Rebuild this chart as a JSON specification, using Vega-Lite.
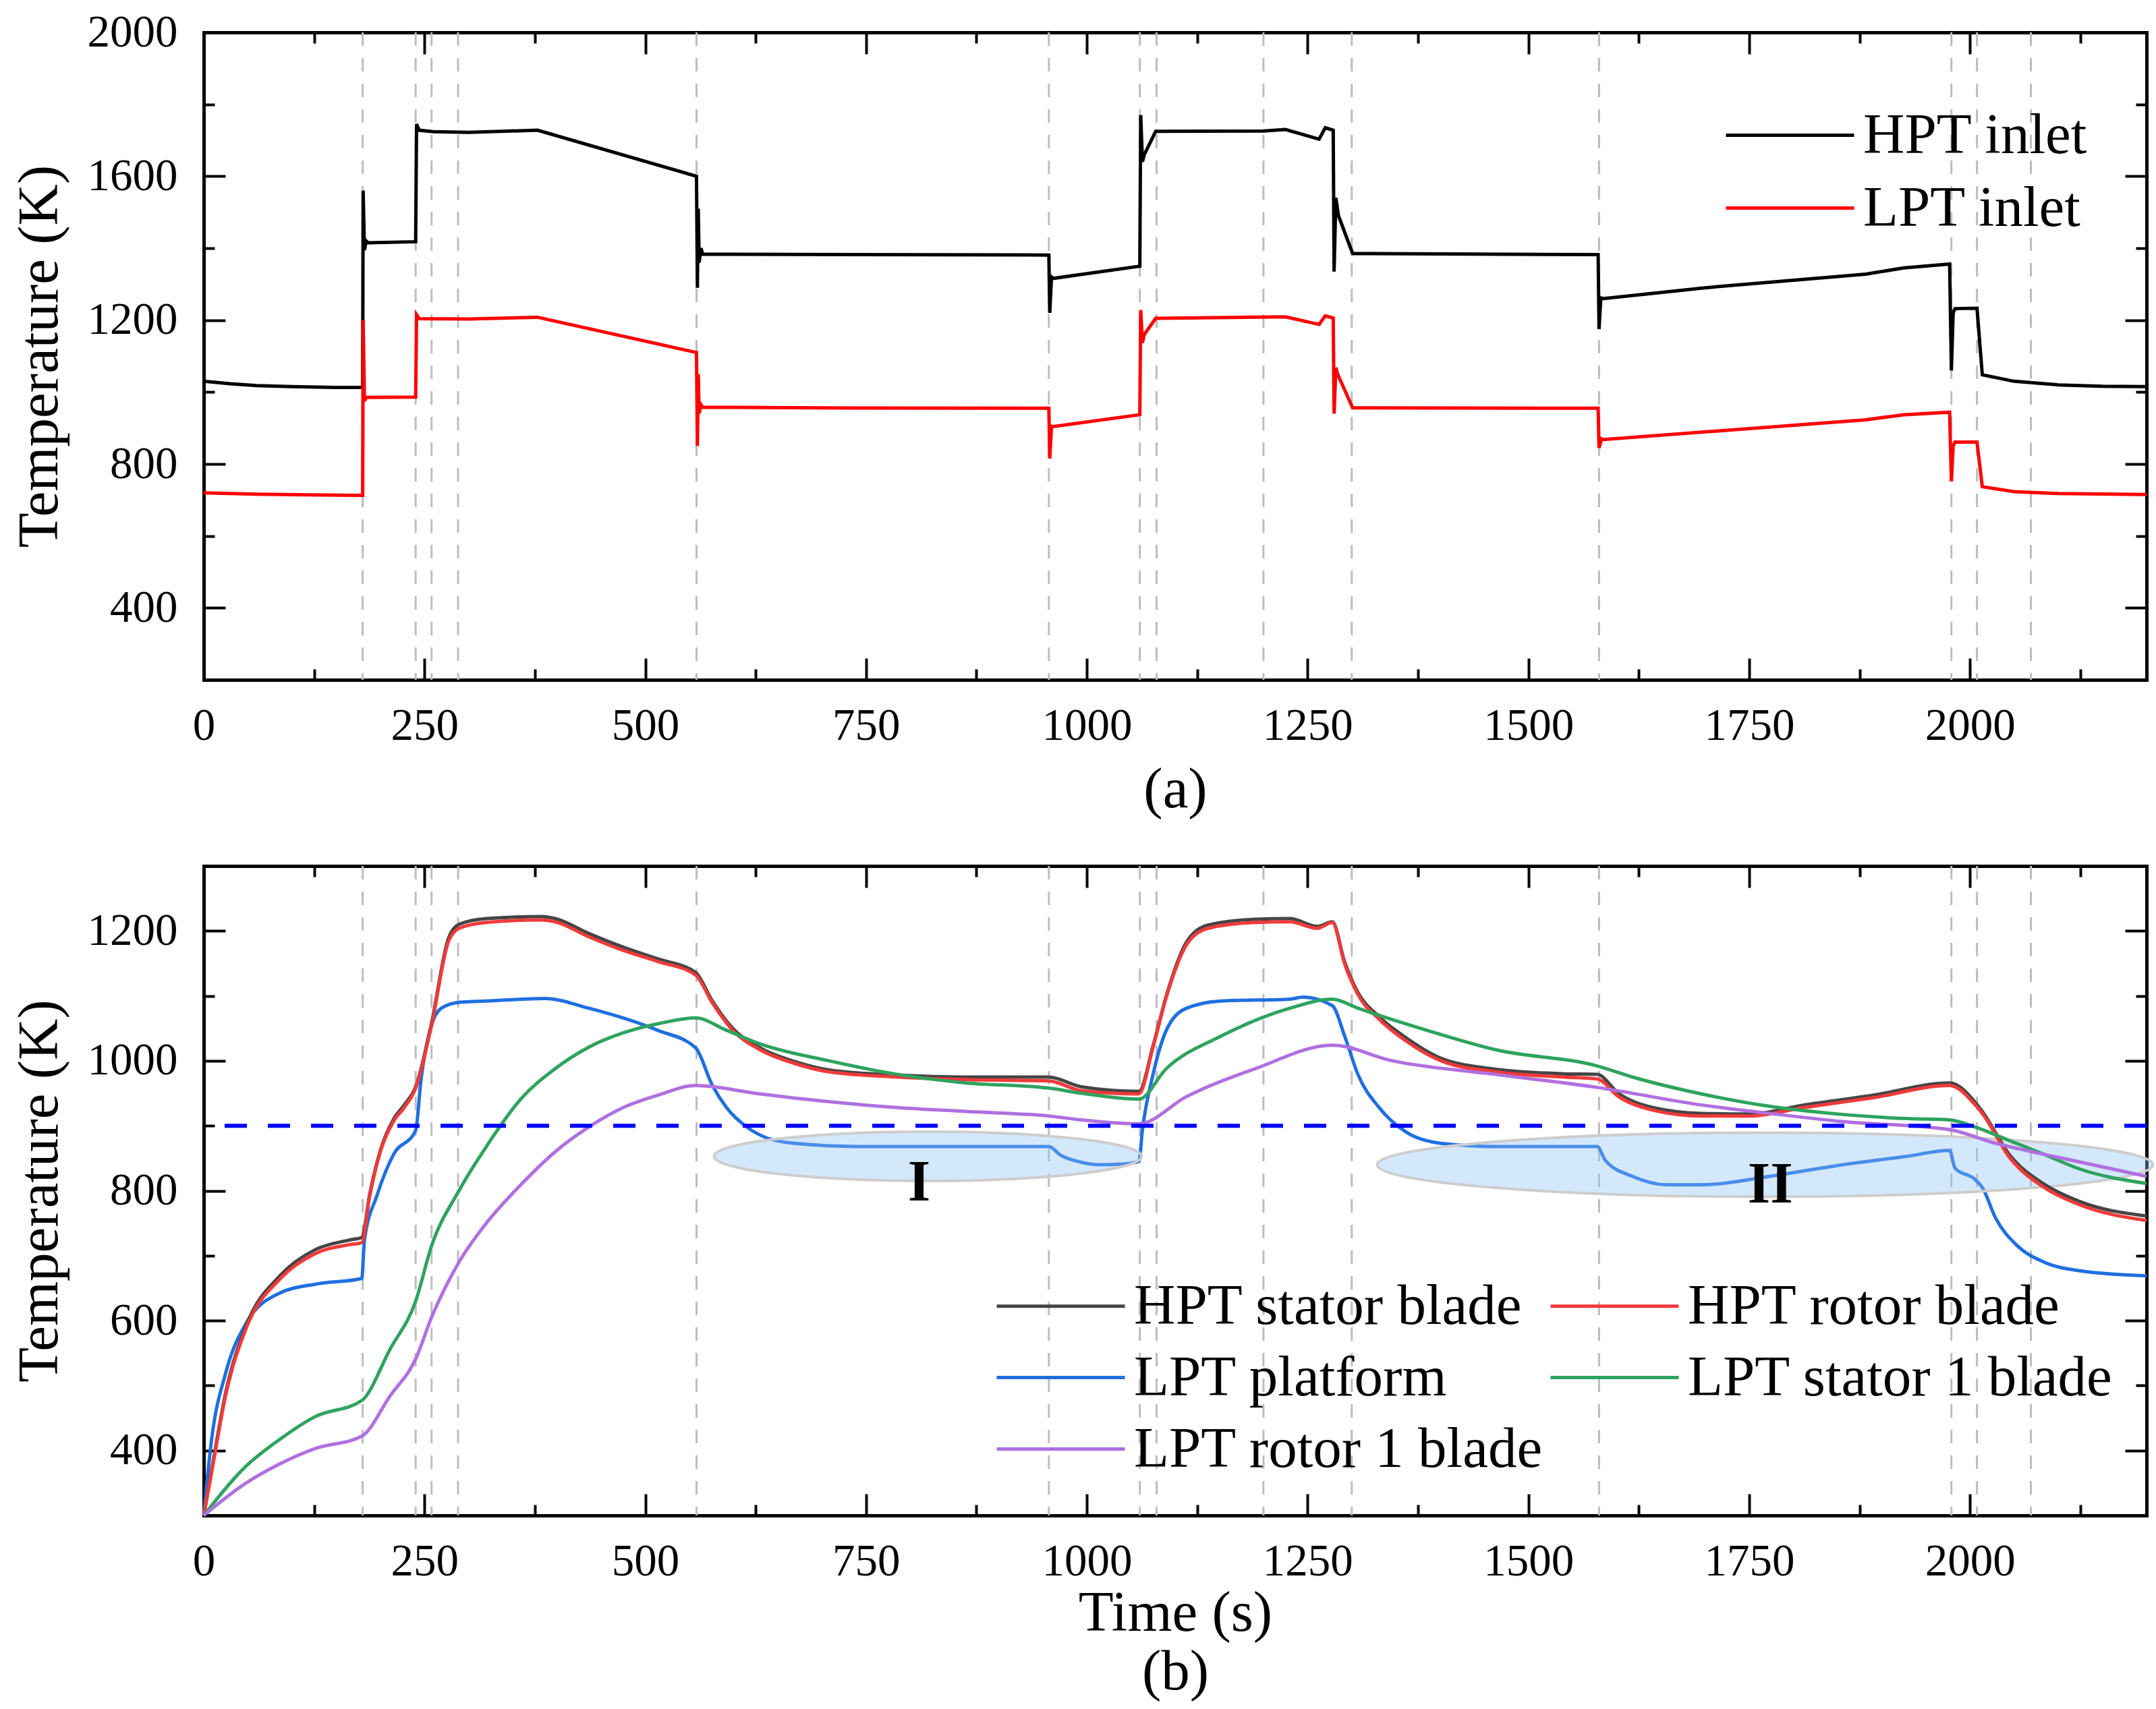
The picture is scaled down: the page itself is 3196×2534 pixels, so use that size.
{
  "$schema": "https://vega.github.io/schema/vega-lite/v6.json",
  "padding": {"left": 16, "top": 14, "right": 10, "bottom": 10},
  "background": "white",
  "datasets": {
    "events": [{"t":180},{"t":240},{"t":258},{"t":288},{"t":558},{"t":957},{"t":1060},{"t":1079},{"t":1200},{"t":1300},{"t":1580},{"t":1979},{"t":2008},{"t":2069}],
    "inlet": [
      {"series":"HPT inlet","t":0,"T":1030},{"series":"HPT inlet","t":30,"T":1023},{"series":"HPT inlet","t":60,"T":1018},{"series":"HPT inlet","t":100,"T":1015},{"series":"HPT inlet","t":150,"T":1013},{"series":"HPT inlet","t":180,"T":1013},{"series":"HPT inlet","t":180.5,"T":1560},{"series":"HPT inlet","t":182,"T":1395},{"series":"HPT inlet","t":184,"T":1420},{"series":"HPT inlet","t":186,"T":1415},{"series":"HPT inlet","t":240,"T":1418},{"series":"HPT inlet","t":241,"T":1745},{"series":"HPT inlet","t":244,"T":1728},{"series":"HPT inlet","t":260,"T":1724},{"series":"HPT inlet","t":300,"T":1722},{"series":"HPT inlet","t":378,"T":1728},{"series":"HPT inlet","t":558,"T":1600},{"series":"HPT inlet","t":559,"T":1290},{"series":"HPT inlet","t":560,"T":1510},{"series":"HPT inlet","t":561,"T":1360},{"series":"HPT inlet","t":563,"T":1400},{"series":"HPT inlet","t":565,"T":1383},{"series":"HPT inlet","t":600,"T":1383},{"series":"HPT inlet","t":957,"T":1381},{"series":"HPT inlet","t":958,"T":1220},{"series":"HPT inlet","t":960,"T":1320},{"series":"HPT inlet","t":962,"T":1316},{"series":"HPT inlet","t":1060,"T":1350},{"series":"HPT inlet","t":1061,"T":1770},{"series":"HPT inlet","t":1063,"T":1640},{"series":"HPT inlet","t":1065,"T":1660},{"series":"HPT inlet","t":1078,"T":1725},{"series":"HPT inlet","t":1200,"T":1726},{"series":"HPT inlet","t":1225,"T":1730},{"series":"HPT inlet","t":1263,"T":1703},{"series":"HPT inlet","t":1270,"T":1735},{"series":"HPT inlet","t":1279,"T":1728},{"series":"HPT inlet","t":1280,"T":1335},{"series":"HPT inlet","t":1282,"T":1540},{"series":"HPT inlet","t":1285,"T":1490},{"series":"HPT inlet","t":1301,"T":1385},{"series":"HPT inlet","t":1400,"T":1384},{"series":"HPT inlet","t":1579,"T":1382},{"series":"HPT inlet","t":1580,"T":1175},{"series":"HPT inlet","t":1582,"T":1262},{"series":"HPT inlet","t":1585,"T":1260},{"series":"HPT inlet","t":1700,"T":1290},{"series":"HPT inlet","t":1882,"T":1328},{"series":"HPT inlet","t":1925,"T":1345},{"series":"HPT inlet","t":1977,"T":1356},{"series":"HPT inlet","t":1979,"T":1060},{"series":"HPT inlet","t":1981,"T":1220},{"series":"HPT inlet","t":1983,"T":1232},{"series":"HPT inlet","t":2008,"T":1233},{"series":"HPT inlet","t":2014,"T":1048},{"series":"HPT inlet","t":2050,"T":1030},{"series":"HPT inlet","t":2100,"T":1020},{"series":"HPT inlet","t":2150,"T":1016},{"series":"HPT inlet","t":2200,"T":1015},
      {"series":"LPT inlet","t":0,"T":720},{"series":"LPT inlet","t":60,"T":716},{"series":"LPT inlet","t":120,"T":714},{"series":"LPT inlet","t":180,"T":713},{"series":"LPT inlet","t":180.5,"T":1200},{"series":"LPT inlet","t":182,"T":975},{"series":"LPT inlet","t":184,"T":985},{"series":"LPT inlet","t":240,"T":986},{"series":"LPT inlet","t":241,"T":1215},{"series":"LPT inlet","t":244,"T":1204},{"series":"LPT inlet","t":300,"T":1203},{"series":"LPT inlet","t":378,"T":1208},{"series":"LPT inlet","t":558,"T":1110},{"series":"LPT inlet","t":559,"T":850},{"series":"LPT inlet","t":560,"T":1050},{"series":"LPT inlet","t":561,"T":940},{"series":"LPT inlet","t":563,"T":965},{"series":"LPT inlet","t":565,"T":958},{"series":"LPT inlet","t":700,"T":956},{"series":"LPT inlet","t":957,"T":955},{"series":"LPT inlet","t":958,"T":815},{"series":"LPT inlet","t":960,"T":905},{"series":"LPT inlet","t":962,"T":904},{"series":"LPT inlet","t":1060,"T":937},{"series":"LPT inlet","t":1061,"T":1228},{"series":"LPT inlet","t":1063,"T":1137},{"series":"LPT inlet","t":1065,"T":1160},{"series":"LPT inlet","t":1078,"T":1205},{"series":"LPT inlet","t":1225,"T":1209},{"series":"LPT inlet","t":1263,"T":1188},{"series":"LPT inlet","t":1270,"T":1212},{"series":"LPT inlet","t":1279,"T":1206},{"series":"LPT inlet","t":1280,"T":940},{"series":"LPT inlet","t":1282,"T":1068},{"series":"LPT inlet","t":1284,"T":1050},{"series":"LPT inlet","t":1301,"T":956},{"series":"LPT inlet","t":1579,"T":955},{"series":"LPT inlet","t":1580,"T":845},{"series":"LPT inlet","t":1583,"T":870},{"series":"LPT inlet","t":1585,"T":868},{"series":"LPT inlet","t":1882,"T":923},{"series":"LPT inlet","t":1925,"T":937},{"series":"LPT inlet","t":1977,"T":944},{"series":"LPT inlet","t":1979,"T":752},{"series":"LPT inlet","t":1981,"T":850},{"series":"LPT inlet","t":1983,"T":861},{"series":"LPT inlet","t":2008,"T":861},{"series":"LPT inlet","t":2014,"T":737},{"series":"LPT inlet","t":2050,"T":723},{"series":"LPT inlet","t":2100,"T":718},{"series":"LPT inlet","t":2200,"T":715}
    ],
    "blade": [
      {"series":"HPT stator blade","t":0,"T":300},{"series":"HPT stator blade","t":9,"T":370},{"series":"HPT stator blade","t":25,"T":490},{"series":"HPT stator blade","t":48,"T":592},{"series":"HPT stator blade","t":87,"T":670},{"series":"HPT stator blade","t":126,"T":709},{"series":"HPT stator blade","t":165,"T":724},{"series":"HPT stator blade","t":179,"T":728},{"series":"HPT stator blade","t":188,"T":795},{"series":"HPT stator blade","t":200,"T":862},{"series":"HPT stator blade","t":215,"T":910},{"series":"HPT stator blade","t":227,"T":932},{"series":"HPT stator blade","t":240,"T":960},{"series":"HPT stator blade","t":258,"T":1058},{"series":"HPT stator blade","t":277,"T":1188},{"series":"HPT stator blade","t":289,"T":1210},{"series":"HPT stator blade","t":320,"T":1219},{"series":"HPT stator blade","t":382,"T":1222},{"series":"HPT stator blade","t":398,"T":1219},{"series":"HPT stator blade","t":436,"T":1196},{"series":"HPT stator blade","t":475,"T":1175},{"series":"HPT stator blade","t":514,"T":1157},{"series":"HPT stator blade","t":557,"T":1136},{"series":"HPT stator blade","t":576,"T":1092},{"series":"HPT stator blade","t":599,"T":1050},{"series":"HPT stator blade","t":630,"T":1020},{"series":"HPT stator blade","t":669,"T":999},{"series":"HPT stator blade","t":708,"T":986},{"series":"HPT stator blade","t":786,"T":978},{"series":"HPT stator blade","t":863,"T":975},{"series":"HPT stator blade","t":957,"T":975},{"series":"HPT stator blade","t":994,"T":960},{"series":"HPT stator blade","t":1059,"T":953},{"series":"HPT stator blade","t":1075,"T":1023},{"series":"HPT stator blade","t":1090,"T":1100},{"series":"HPT stator blade","t":1113,"T":1183},{"series":"HPT stator blade","t":1137,"T":1209},{"series":"HPT stator blade","t":1191,"T":1218},{"series":"HPT stator blade","t":1230,"T":1219},{"series":"HPT stator blade","t":1261,"T":1207},{"series":"HPT stator blade","t":1278,"T":1214},{"series":"HPT stator blade","t":1292,"T":1152},{"series":"HPT stator blade","t":1307,"T":1105},{"series":"HPT stator blade","t":1331,"T":1068},{"series":"HPT stator blade","t":1362,"T":1035},{"series":"HPT stator blade","t":1401,"T":1004},{"series":"HPT stator blade","t":1463,"T":987},{"series":"HPT stator blade","t":1540,"T":980},{"series":"HPT stator blade","t":1578,"T":979},{"series":"HPT stator blade","t":1602,"T":950},{"series":"HPT stator blade","t":1641,"T":928},{"series":"HPT stator blade","t":1696,"T":919},{"series":"HPT stator blade","t":1750,"T":918},{"series":"HPT stator blade","t":1812,"T":932},{"series":"HPT stator blade","t":1890,"T":947},{"series":"HPT stator blade","t":1977,"T":966},{"series":"HPT stator blade","t":2006,"T":936},{"series":"HPT stator blade","t":2014,"T":922},{"series":"HPT stator blade","t":2045,"T":855},{"series":"HPT stator blade","t":2084,"T":810},{"series":"HPT stator blade","t":2123,"T":784},{"series":"HPT stator blade","t":2200,"T":761},
      {"series":"HPT rotor blade","t":0,"T":300},{"series":"HPT rotor blade","t":9,"T":367},{"series":"HPT rotor blade","t":25,"T":486},{"series":"HPT rotor blade","t":48,"T":588},{"series":"HPT rotor blade","t":87,"T":665},{"series":"HPT rotor blade","t":126,"T":703},{"series":"HPT rotor blade","t":165,"T":717},{"series":"HPT rotor blade","t":179,"T":720},{"series":"HPT rotor blade","t":188,"T":792},{"series":"HPT rotor blade","t":200,"T":860},{"series":"HPT rotor blade","t":215,"T":907},{"series":"HPT rotor blade","t":227,"T":928},{"series":"HPT rotor blade","t":240,"T":958},{"series":"HPT rotor blade","t":258,"T":1055},{"series":"HPT rotor blade","t":277,"T":1183},{"series":"HPT rotor blade","t":289,"T":1204},{"series":"HPT rotor blade","t":320,"T":1213},{"series":"HPT rotor blade","t":382,"T":1217},{"series":"HPT rotor blade","t":398,"T":1214},{"series":"HPT rotor blade","t":436,"T":1191},{"series":"HPT rotor blade","t":475,"T":1170},{"series":"HPT rotor blade","t":514,"T":1153},{"series":"HPT rotor blade","t":557,"T":1132},{"series":"HPT rotor blade","t":576,"T":1089},{"series":"HPT rotor blade","t":599,"T":1047},{"series":"HPT rotor blade","t":630,"T":1017},{"series":"HPT rotor blade","t":669,"T":996},{"series":"HPT rotor blade","t":708,"T":983},{"series":"HPT rotor blade","t":786,"T":975},{"series":"HPT rotor blade","t":863,"T":971},{"series":"HPT rotor blade","t":957,"T":969},{"series":"HPT rotor blade","t":994,"T":954},{"series":"HPT rotor blade","t":1059,"T":949},{"series":"HPT rotor blade","t":1075,"T":1021},{"series":"HPT rotor blade","t":1090,"T":1098},{"series":"HPT rotor blade","t":1113,"T":1179},{"series":"HPT rotor blade","t":1137,"T":1204},{"series":"HPT rotor blade","t":1191,"T":1213},{"series":"HPT rotor blade","t":1230,"T":1214},{"series":"HPT rotor blade","t":1261,"T":1204},{"series":"HPT rotor blade","t":1278,"T":1213},{"series":"HPT rotor blade","t":1292,"T":1149},{"series":"HPT rotor blade","t":1307,"T":1102},{"series":"HPT rotor blade","t":1331,"T":1064},{"series":"HPT rotor blade","t":1362,"T":1030},{"series":"HPT rotor blade","t":1401,"T":1000},{"series":"HPT rotor blade","t":1463,"T":983},{"series":"HPT rotor blade","t":1540,"T":975},{"series":"HPT rotor blade","t":1578,"T":972},{"series":"HPT rotor blade","t":1602,"T":945},{"series":"HPT rotor blade","t":1641,"T":924},{"series":"HPT rotor blade","t":1696,"T":915},{"series":"HPT rotor blade","t":1750,"T":915},{"series":"HPT rotor blade","t":1812,"T":928},{"series":"HPT rotor blade","t":1890,"T":943},{"series":"HPT rotor blade","t":1977,"T":962},{"series":"HPT rotor blade","t":2006,"T":932},{"series":"HPT rotor blade","t":2014,"T":919},{"series":"HPT rotor blade","t":2045,"T":851},{"series":"HPT rotor blade","t":2084,"T":805},{"series":"HPT rotor blade","t":2123,"T":779},{"series":"HPT rotor blade","t":2200,"T":754},
      {"series":"LPT platform","t":0,"T":300},{"series":"LPT platform","t":9,"T":418},{"series":"LPT platform","t":25,"T":520},{"series":"LPT platform","t":48,"T":596},{"series":"LPT platform","t":87,"T":643},{"series":"LPT platform","t":126,"T":656},{"series":"LPT platform","t":179,"T":665},{"series":"LPT platform","t":182,"T":724},{"series":"LPT platform","t":196,"T":792},{"series":"LPT platform","t":215,"T":856},{"series":"LPT platform","t":240,"T":893},{"series":"LPT platform","t":246,"T":970},{"series":"LPT platform","t":258,"T":1055},{"series":"LPT platform","t":269,"T":1081},{"series":"LPT platform","t":289,"T":1090},{"series":"LPT platform","t":320,"T":1092},{"series":"LPT platform","t":386,"T":1096},{"series":"LPT platform","t":436,"T":1081},{"series":"LPT platform","t":514,"T":1047},{"series":"LPT platform","t":557,"T":1020},{"series":"LPT platform","t":576,"T":962},{"series":"LPT platform","t":592,"T":928},{"series":"LPT platform","t":615,"T":898},{"series":"LPT platform","t":638,"T":881},{"series":"LPT platform","t":669,"T":873},{"series":"LPT platform","t":747,"T":868},{"series":"LPT platform","t":957,"T":868},{"series":"LPT platform","t":970,"T":855},{"series":"LPT platform","t":990,"T":845},{"series":"LPT platform","t":1014,"T":840},{"series":"LPT platform","t":1040,"T":841},{"series":"LPT platform","t":1059,"T":845},{"series":"LPT platform","t":1063,"T":894},{"series":"LPT platform","t":1075,"T":979},{"series":"LPT platform","t":1090,"T":1047},{"series":"LPT platform","t":1113,"T":1081},{"series":"LPT platform","t":1152,"T":1092},{"series":"LPT platform","t":1230,"T":1095},{"series":"LPT platform","t":1245,"T":1098},{"series":"LPT platform","t":1278,"T":1085},{"series":"LPT platform","t":1292,"T":1038},{"series":"LPT platform","t":1307,"T":979},{"series":"LPT platform","t":1331,"T":928},{"series":"LPT platform","t":1362,"T":890},{"series":"LPT platform","t":1401,"T":873},{"series":"LPT platform","t":1463,"T":868},{"series":"LPT platform","t":1578,"T":868},{"series":"LPT platform","t":1587,"T":847},{"series":"LPT platform","t":1618,"T":822},{"series":"LPT platform","t":1657,"T":809},{"series":"LPT platform","t":1696,"T":809},{"series":"LPT platform","t":1773,"T":822},{"series":"LPT platform","t":1851,"T":839},{"series":"LPT platform","t":1929,"T":853},{"series":"LPT platform","t":1977,"T":862},{"series":"LPT platform","t":1983,"T":835},{"series":"LPT platform","t":2006,"T":817},{"series":"LPT platform","t":2014,"T":805},{"series":"LPT platform","t":2029,"T":758},{"series":"LPT platform","t":2053,"T":716},{"series":"LPT platform","t":2084,"T":690},{"series":"LPT platform","t":2123,"T":677},{"series":"LPT platform","t":2200,"T":669},
      {"series":"LPT stator 1 blade","t":0,"T":300},{"series":"LPT stator 1 blade","t":48,"T":376},{"series":"LPT stator 1 blade","t":87,"T":418},{"series":"LPT stator 1 blade","t":126,"T":452},{"series":"LPT stator 1 blade","t":179,"T":477},{"series":"LPT stator 1 blade","t":211,"T":556},{"series":"LPT stator 1 blade","t":240,"T":630},{"series":"LPT stator 1 blade","t":258,"T":715},{"series":"LPT stator 1 blade","t":289,"T":800},{"series":"LPT stator 1 blade","t":320,"T":868},{"series":"LPT stator 1 blade","t":359,"T":941},{"series":"LPT stator 1 blade","t":398,"T":988},{"series":"LPT stator 1 blade","t":436,"T":1021},{"series":"LPT stator 1 blade","t":475,"T":1043},{"series":"LPT stator 1 blade","t":514,"T":1057},{"series":"LPT stator 1 blade","t":557,"T":1066},{"series":"LPT stator 1 blade","t":592,"T":1047},{"series":"LPT stator 1 blade","t":630,"T":1026},{"series":"LPT stator 1 blade","t":708,"T":1000},{"series":"LPT stator 1 blade","t":786,"T":979},{"series":"LPT stator 1 blade","t":863,"T":966},{"series":"LPT stator 1 blade","t":957,"T":958},{"series":"LPT stator 1 blade","t":994,"T":950},{"series":"LPT stator 1 blade","t":1059,"T":941},{"series":"LPT stator 1 blade","t":1090,"T":988},{"series":"LPT stator 1 blade","t":1152,"T":1038},{"series":"LPT stator 1 blade","t":1230,"T":1081},{"series":"LPT stator 1 blade","t":1278,"T":1095},{"series":"LPT stator 1 blade","t":1307,"T":1081},{"series":"LPT stator 1 blade","t":1385,"T":1047},{"series":"LPT stator 1 blade","t":1463,"T":1017},{"series":"LPT stator 1 blade","t":1578,"T":992},{"series":"LPT stator 1 blade","t":1618,"T":975},{"series":"LPT stator 1 blade","t":1696,"T":949},{"series":"LPT stator 1 blade","t":1773,"T":930},{"series":"LPT stator 1 blade","t":1851,"T":918},{"series":"LPT stator 1 blade","t":1929,"T":911},{"series":"LPT stator 1 blade","t":1977,"T":909},{"series":"LPT stator 1 blade","t":2006,"T":898},{"series":"LPT stator 1 blade","t":2045,"T":877},{"series":"LPT stator 1 blade","t":2084,"T":856},{"series":"LPT stator 1 blade","t":2123,"T":834},{"series":"LPT stator 1 blade","t":2200,"T":811},
      {"series":"LPT rotor 1 blade","t":0,"T":300},{"series":"LPT rotor 1 blade","t":48,"T":350},{"series":"LPT rotor 1 blade","t":87,"T":380},{"series":"LPT rotor 1 blade","t":126,"T":403},{"series":"LPT rotor 1 blade","t":179,"T":422},{"series":"LPT rotor 1 blade","t":211,"T":484},{"series":"LPT rotor 1 blade","t":240,"T":541},{"series":"LPT rotor 1 blade","t":258,"T":605},{"series":"LPT rotor 1 blade","t":289,"T":690},{"series":"LPT rotor 1 blade","t":320,"T":750},{"series":"LPT rotor 1 blade","t":359,"T":809},{"series":"LPT rotor 1 blade","t":398,"T":860},{"series":"LPT rotor 1 blade","t":436,"T":898},{"series":"LPT rotor 1 blade","t":475,"T":928},{"series":"LPT rotor 1 blade","t":514,"T":947},{"series":"LPT rotor 1 blade","t":557,"T":962},{"series":"LPT rotor 1 blade","t":630,"T":949},{"series":"LPT rotor 1 blade","t":708,"T":937},{"series":"LPT rotor 1 blade","t":786,"T":928},{"series":"LPT rotor 1 blade","t":863,"T":922},{"series":"LPT rotor 1 blade","t":957,"T":915},{"series":"LPT rotor 1 blade","t":994,"T":909},{"series":"LPT rotor 1 blade","t":1059,"T":903},{"series":"LPT rotor 1 blade","t":1113,"T":945},{"series":"LPT rotor 1 blade","t":1191,"T":988},{"series":"LPT rotor 1 blade","t":1278,"T":1024},{"series":"LPT rotor 1 blade","t":1346,"T":1000},{"series":"LPT rotor 1 blade","t":1463,"T":979},{"series":"LPT rotor 1 blade","t":1578,"T":959},{"series":"LPT rotor 1 blade","t":1696,"T":932},{"series":"LPT rotor 1 blade","t":1773,"T":919},{"series":"LPT rotor 1 blade","t":1851,"T":907},{"series":"LPT rotor 1 blade","t":1977,"T":894},{"series":"LPT rotor 1 blade","t":2029,"T":873},{"series":"LPT rotor 1 blade","t":2084,"T":856},{"series":"LPT rotor 1 blade","t":2200,"T":822}
    ],
    "threshold": [{"T":900}],
    "regions": [{"region":"I","t":820,"T":853},{"region":"II","t":1768,"T":840}],
    "regionLabels": [{"label":"I","t":810,"T":812},{"label":"II","t":1774,"T":809}]
  },
  "vconcat": [
    {
      "width": 2880,
      "height": 960,
      "layer": [
        {
          "data": {"name": "events"},
          "mark": {"type": "rule", "color": "#bdbdbd", "strokeWidth": 3, "strokeDash": [20, 18]},
          "encoding": {
            "x": {"field": "t", "type": "quantitative", "scale": {"domain": [0, 2200], "nice": false, "zero": false},
              "axis": {"orient": "bottom", "values": [0,125,250,375,500,625,750,875,1000,1125,1250,1375,1500,1625,1750,1875,2000,2125], "format": "d",
                "labelExpr": "datum.value % 250 === 0 ? datum.label : ''",
                "tickSize": {"condition": {"test": "datum.value % 250 === 0", "value": -32}, "value": -16},
                "labelPadding": 67, "labelOverlap": false, "labelFlush": false, "title": "(a)", "titlePadding": 4}}
          }
        },
        {
          "data": {"name": "inlet"},
          "transform": [{"filter": "datum.series === 'HPT inlet'"}],
          "mark": {"type": "line", "strokeWidth": 5},
          "encoding": {
            "x": {"field": "t", "type": "quantitative", "scale": {"domain": [0, 2200], "nice": false, "zero": false},
              "axis": {"orient": "top", "values": [0,125,250,375,500,625,750,875,1000,1125,1250,1375,1500,1625,1750,1875,2000,2125], "labels": false, "title": null,
                "tickSize": {"condition": {"test": "datum.value % 250 === 0", "value": -32}, "value": -16}}},
            "y": {"field": "T", "type": "quantitative", "scale": {"domain": [200, 2000], "nice": false, "zero": false},
              "axis": {"orient": "left", "values": [200,400,600,800,1000,1200,1400,1600,1800,2000], "format": "d",
                "labelExpr": "datum.value % 400 === 0 ? datum.label : ''",
                "tickSize": {"condition": {"test": "datum.value % 400 === 0", "value": -32}, "value": -16},
                "labelPadding": 71, "labelOverlap": false, "labelFlush": false, "title": "Temperature (K)", "titlePadding": 27}},
            "color": {"field": "series", "type": "nominal",
              "scale": {"domain": ["HPT inlet", "LPT inlet"], "range": ["#000000", "#ff0000"]},
              "legend": {"orient": "none", "direction": "vertical", "legendX": 2257, "legendY": 110, "title": null, "symbolType": "M-5,0L5,0", "symbolSize": 1444, "symbolStrokeWidth": 5, "symbolOffset": 52, "labelOffset": 66, "labelFont": "Liberation Serif", "labelFontSize": 85, "labelColor": "black", "labelLimit": 0, "rowPadding": 22, "padding": 0}}
          }
        },
        {
          "data": {"name": "inlet"},
          "transform": [{"filter": "datum.series === 'LPT inlet'"}],
          "mark": {"type": "line", "strokeWidth": 5},
          "encoding": {
            "x": {"field": "t", "type": "quantitative", "scale": {"domain": [0, 2200], "nice": false, "zero": false}, "axis": null},
            "y": {"field": "T", "type": "quantitative", "scale": {"domain": [200, 2000], "nice": false, "zero": false},
              "axis": {"orient": "right", "values": [200,400,600,800,1000,1200,1400,1600,1800,2000], "labels": false, "title": null,
                "tickSize": {"condition": {"test": "datum.value % 400 === 0", "value": -32}, "value": -16}}},
            "color": {"field": "series", "type": "nominal",
              "scale": {"domain": ["HPT inlet", "LPT inlet"], "range": ["#000000", "#ff0000"]}}
          }
        }
      ],
      "resolve": {"axis": {"x": "independent", "y": "independent"}}
    },
    {
      "width": 2880,
      "height": 963,
      "layer": [
        {
          "data": {"name": "events"},
          "mark": {"type": "rule", "color": "#bdbdbd", "strokeWidth": 3, "strokeDash": [20, 18]},
          "encoding": {
            "x": {"field": "t", "type": "quantitative", "scale": {"domain": [0, 2200], "nice": false, "zero": false},
              "axis": {"orient": "bottom", "values": [0,125,250,375,500,625,750,875,1000,1125,1250,1375,1500,1625,1750,1875,2000,2125], "format": "d",
                "labelExpr": "datum.value % 250 === 0 ? datum.label : ''",
                "tickSize": {"condition": {"test": "datum.value % 250 === 0", "value": -32}, "value": -16},
                "labelPadding": 67, "labelOverlap": false, "labelFlush": false, "title": ["Time (s)", "(b)"], "titleLineHeight": 87, "titlePadding": -14}}
          }
        },
        {
          "data": {"name": "blade"},
          "transform": [{"filter": "datum.series === 'LPT platform'"}],
          "mark": {"type": "line", "strokeWidth": 5, "interpolate": "monotone"},
          "encoding": {
            "x": {"field": "t", "type": "quantitative", "scale": {"domain": [0, 2200], "nice": false, "zero": false},
              "axis": {"orient": "top", "values": [0,125,250,375,500,625,750,875,1000,1125,1250,1375,1500,1625,1750,1875,2000,2125], "labels": false, "title": null,
                "tickSize": {"condition": {"test": "datum.value % 250 === 0", "value": -32}, "value": -16}}},
            "y": {"field": "T", "type": "quantitative", "scale": {"domain": [300, 1300], "nice": false, "zero": false},
              "axis": {"orient": "left", "values": [300,400,500,600,700,800,900,1000,1100,1200,1300], "format": "d",
                "labelExpr": "datum.value % 200 === 0 ? datum.label : ''",
                "tickSize": {"condition": {"test": "datum.value % 200 === 0", "value": -32}, "value": -16},
                "labelPadding": 71, "labelOverlap": false, "labelFlush": false, "title": "Temperature (K)", "titlePadding": 27}},
            "color": {"field": "series", "type": "nominal",
              "scale": {"domain": ["HPT stator blade", "HPT rotor blade", "LPT platform", "LPT stator 1 blade", "LPT rotor 1 blade"], "range": ["#454545", "#f03a3a", "#1f6fe0", "#2ea35e", "#b070e0"]},
              "legend": {"orient": "none", "direction": "horizontal", "legendX": 1176, "legendY": 610, "columns": 2, "columnPadding": 0, "title": null, "symbolType": "M-5,0L5,0", "symbolSize": 1444, "symbolStrokeWidth": 5, "symbolOffset": 52, "labelOffset": 66, "labelFont": "Liberation Serif", "labelFontSize": 85, "labelColor": "black", "labelLimit": 0, "rowPadding": 20, "padding": 0}}
          }
        },
        {
          "data": {"name": "regions"},
          "transform": [{"filter": "datum.region === 'I'"}],
          "mark": {"type": "point", "shape": "M-1,0C-1,-0.0635,-0.5523,-0.115,0,-0.115C0.5523,-0.115,1,-0.0635,1,0C1,0.0635,0.5523,0.115,0,0.115C-0.5523,0.115,-1,0.0635,-1,0Z", "size": 401956, "filled": true, "fill": "#8fc3f7", "fillOpacity": 0.38, "stroke": "#cdcdcd", "strokeWidth": 4, "strokeOpacity": 1, "opacity": 1},
          "encoding": {
            "x": {"field": "t", "type": "quantitative", "scale": {"domain": [0, 2200], "nice": false, "zero": false}, "axis": null},
            "y": {"field": "T", "type": "quantitative", "scale": {"domain": [300, 1300], "nice": false, "zero": false}, "axis": null}
          }
        },
        {
          "data": {"name": "regions"},
          "transform": [{"filter": "datum.region === 'II'"}],
          "mark": {"type": "point", "shape": "M-1,0C-1,-0.0456,-0.5523,-0.0826,0,-0.0826C0.5523,-0.0826,1,-0.0456,1,0C1,0.0456,0.5523,0.0826,0,0.0826C-0.5523,0.0826,-1,0.0456,-1,0Z", "size": 1322500, "filled": true, "fill": "#8fc3f7", "fillOpacity": 0.38, "stroke": "#cdcdcd", "strokeWidth": 4, "strokeOpacity": 1, "opacity": 1},
          "encoding": {
            "x": {"field": "t", "type": "quantitative", "scale": {"domain": [0, 2200], "nice": false, "zero": false}, "axis": null},
            "y": {"field": "T", "type": "quantitative", "scale": {"domain": [300, 1300], "nice": false, "zero": false}, "axis": null}
          }
        },
        {
          "data": {"name": "blade"},
          "transform": [{"filter": "datum.series !== 'LPT platform'"}],
          "mark": {"type": "line", "strokeWidth": 5, "interpolate": "monotone"},
          "encoding": {
            "x": {"field": "t", "type": "quantitative", "scale": {"domain": [0, 2200], "nice": false, "zero": false}, "axis": null},
            "y": {"field": "T", "type": "quantitative", "scale": {"domain": [300, 1300], "nice": false, "zero": false}, "axis": null},
            "color": {"field": "series", "type": "nominal",
              "scale": {"domain": ["HPT stator blade", "HPT rotor blade", "LPT platform", "LPT stator 1 blade", "LPT rotor 1 blade"], "range": ["#454545", "#f03a3a", "#1f6fe0", "#2ea35e", "#b070e0"]}}
          }
        },
        {
          "data": {"name": "threshold"},
          "mark": {"type": "rule", "color": "#0000ff", "strokeWidth": 6, "strokeDash": [33, 31]},
          "encoding": {
            "y": {"field": "T", "type": "quantitative", "scale": {"domain": [300, 1300], "nice": false, "zero": false},
              "axis": {"orient": "right", "values": [300,400,500,600,700,800,900,1000,1100,1200,1300], "labels": false, "title": null,
                "tickSize": {"condition": {"test": "datum.value % 200 === 0", "value": -32}, "value": -16}}}
          }
        },
        {
          "data": {"name": "regionLabels"},
          "mark": {"type": "text", "font": "Liberation Serif", "fontSize": 86, "fontWeight": "bold", "color": "black", "align": "center", "baseline": "middle"},
          "encoding": {
            "x": {"field": "t", "type": "quantitative", "scale": {"domain": [0, 2200], "nice": false, "zero": false}, "axis": null},
            "y": {"field": "T", "type": "quantitative", "scale": {"domain": [300, 1300], "nice": false, "zero": false}, "axis": null},
            "text": {"field": "label"}
          }
        }
      ],
      "resolve": {"axis": {"x": "independent", "y": "independent"}}
    }
  ],
  "spacing": 276,
  "bounds": "flush",
  "resolve": {"scale": {"color": "independent"}},
  "config": {
    "font": "Liberation Serif",
    "view": {"stroke": null},
    "axis": {
      "grid": false,
      "domainColor": "black",
      "domainWidth": 5,
      "domainCap": "square",
      "tickColor": "black",
      "tickWidth": 4,
      "labelFont": "Liberation Serif",
      "labelFontSize": 67,
      "labelColor": "black",
      "titleFont": "Liberation Serif",
      "titleFontSize": 85,
      "titleFontWeight": "normal",
      "titleColor": "black"
    }
  }
}
